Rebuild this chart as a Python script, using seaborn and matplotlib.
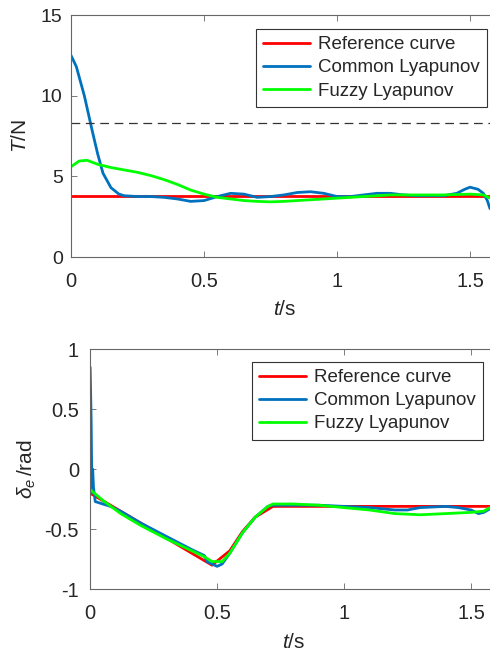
import numpy as np
import pandas as pd
import matplotlib
matplotlib.use("Agg")
import matplotlib.pyplot as plt
import seaborn as sns

# ---- data ----
t_ref = [0.0, 1.575]
T_ref = [3.8, 3.8]

t_common = [0.0, 0.02, 0.05, 0.08, 0.1, 0.12, 0.15, 0.18, 0.2, 0.25, 0.3, 0.35, 0.4, 0.45, 0.5, 0.55,
            0.6, 0.65, 0.7, 0.75, 0.8, 0.85, 0.9, 0.95, 1.0, 1.05, 1.1, 1.15, 1.2, 1.25, 1.3, 1.35,
            1.4, 1.45, 1.48, 1.5, 1.53, 1.55, 1.565, 1.575]
T_common = [12.5, 11.8, 10.0, 7.8, 6.4, 5.2, 4.3, 3.9, 3.8, 3.75, 3.75, 3.7, 3.6, 3.45, 3.5, 3.75,
            3.95, 3.9, 3.7, 3.75, 3.85, 4.0, 4.05, 3.95, 3.75, 3.75, 3.85, 3.95, 3.95, 3.85, 3.8, 3.8,
            3.8, 3.95, 4.2, 4.33, 4.2, 3.95, 3.5, 3.0]

t_fuzzy = [0.0, 0.03, 0.06, 0.1, 0.15, 0.2, 0.25, 0.3, 0.35, 0.4, 0.45, 0.5, 0.55, 0.6, 0.65,
           0.7, 0.75, 0.8, 0.85, 0.9, 0.95, 1.0, 1.1, 1.2, 1.3, 1.4, 1.5, 1.55, 1.575]
T_fuzzy = [5.6, 5.95, 6.0, 5.75, 5.55, 5.4, 5.25, 5.05, 4.8, 4.5, 4.15, 3.9, 3.7, 3.6, 3.5,
           3.45, 3.42, 3.45, 3.5, 3.55, 3.6, 3.65, 3.75, 3.85, 3.85, 3.85, 3.9, 3.85, 3.65]

T_limit = 8.3

d_t_ref = [0.0, 0.48, 0.55, 0.6, 0.65, 0.72, 1.575]
d_ref = [-0.2, -0.8, -0.68, -0.52, -0.4, -0.31, -0.31]

d_t_common = [0.0, 0.004, 0.007, 0.01, 0.013, 0.02, 0.05, 0.08, 0.12, 0.2, 0.3, 0.4, 0.44, 0.45,
              0.46, 0.48, 0.5, 0.52, 0.55, 0.6, 0.65, 0.7, 0.72, 0.8, 0.9, 1.0, 1.1, 1.2, 1.25,
              1.3, 1.4, 1.45, 1.5, 1.53, 1.55, 1.575]
d_common = [0.85, 0.4, -0.2, 0.0, -0.15, -0.27, -0.29, -0.31, -0.35, -0.45, -0.56, -0.67, -0.71, -0.72,
            -0.77, -0.79, -0.81, -0.79, -0.7, -0.53, -0.4, -0.31, -0.3, -0.3, -0.3, -0.31, -0.32, -0.34,
            -0.34, -0.32, -0.31, -0.32, -0.34, -0.37, -0.36, -0.33]

d_t_fuzzy = [0.0, 0.05, 0.12, 0.2, 0.3, 0.4, 0.45, 0.48, 0.52, 0.55, 0.6, 0.65, 0.7, 0.72, 0.8,
             0.9, 1.0, 1.1, 1.2, 1.3, 1.4, 1.5, 1.55, 1.575]
d_fuzzy = [-0.17, -0.26, -0.37, -0.47, -0.58, -0.68, -0.73, -0.77, -0.77, -0.7, -0.53, -0.4, -0.31, -0.29, -0.29,
           -0.3, -0.32, -0.34, -0.37, -0.38, -0.37, -0.36, -0.35, -0.32]

labels = ["Reference curve", "Common Lyapunov", "Fuzzy Lyapunov"]
colors = ["#ff0000", "#0072bd", "#00ff00"]

sns.set_style("ticks")
plt.rcParams["font.family"] = ["Liberation Sans", "DejaVu Sans"]
plt.rcParams["mathtext.fontset"] = "custom"
plt.rcParams["mathtext.rm"] = "Liberation Sans"
plt.rcParams["mathtext.it"] = "Liberation Sans:italic"
plt.rcParams["xtick.direction"] = "in"
plt.rcParams["ytick.direction"] = "in"

fig = plt.figure(figsize=(4.9, 6.59), dpi=100)
ax1 = fig.add_axes([0.145, 0.610, 0.855, 0.367])
ax2 = fig.add_axes([0.184, 0.106, 0.816, 0.364])

def frame(t, y, lab):
    return pd.DataFrame({"t": t, "y": y, "series": lab})

df1 = pd.concat([frame(t_ref, T_ref, labels[0]), frame(t_common, T_common, labels[1]),
                 frame(t_fuzzy, T_fuzzy, labels[2])])
df2 = pd.concat([frame(d_t_ref, d_ref, labels[0]), frame(d_t_common, d_common, labels[1]),
                 frame(d_t_fuzzy, d_fuzzy, labels[2])])

pal = dict(zip(labels, colors))
for ax, df in [(ax1, df1), (ax2, df2)]:
    sns.lineplot(data=df, x="t", y="y", hue="series", palette=pal, sort=False,
                 estimator=None, linewidth=2, ax=ax)

ax1.axhline(T_limit, color="#333333", linestyle=(0, (7, 4.5)), linewidth=0.9)

gray = "#262626"
for ax in (ax1, ax2):
    ax.set_xlim(0, 1.575)
    ax.set_xticks([0, 0.5, 1, 1.5])
    ax.set_xticklabels(["0", "0.5", "1", "1.5"])
    for s in ["left", "top", "bottom"]:
        ax.spines[s].set_color("#666666")
        ax.spines[s].set_linewidth(0.8)
    ax.spines["right"].set_visible(False)
    ax.tick_params(axis="both", which="both", labelsize=14.5, colors="#666666",
                   labelcolor=gray, top=True, length=4, width=0.6)
    ax.tick_params(axis="x", pad=11)
    ax.tick_params(axis="y", pad=6)
    ax.set_xlabel("$t$/s", fontsize=15, color=gray)

ax1.set_ylim(0, 15)
ax1.set_yticks([0, 5, 10, 15])
ax1.set_ylabel("$T$/N", fontsize=15, color=gray)
ax1.tick_params(axis="y", labelsize=14)
ax2.set_ylim(-1, 1)
ax2.set_yticks([-1, -0.5, 0, 0.5, 1])
ax2.set_yticklabels(["-1", "-0.5", "0", "0.5", "1"])
ax2.set_ylabel(r"$\delta_{e}\,$/rad", fontsize=15, color=gray)
ax2.tick_params(axis="y", pad=8)

for ax, anchor in [(ax1, (487 / 490, 1 - 29 / 659)), (ax2, (483 / 490, 1 - 362 / 659))]:
    ax.get_legend().remove()
    h, l = ax.get_legend_handles_labels()
    leg = ax.legend(h, l, loc="upper right", bbox_to_anchor=anchor,
                    bbox_transform=fig.transFigure, fontsize=13.5, frameon=True,
                    fancybox=False, edgecolor="#333333", framealpha=1,
                    handlelength=2.5, handletextpad=0.45, borderpad=0.38,
                    labelspacing=0.32, borderaxespad=0)
    leg.get_frame().set_linewidth(0.8)

ax1.xaxis.set_label_coords(0.51, -0.178)
ax2.xaxis.set_label_coords(0.51, -0.183)
ax1.yaxis.set_label_coords(-0.098, 0.5)
ax2.yaxis.set_label_coords(-0.13, 0.5)

fig.savefig("out.png", dpi=100)
